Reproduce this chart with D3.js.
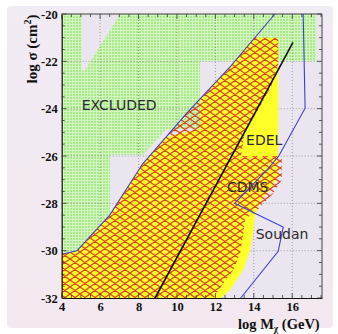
<!DOCTYPE html>
<html><head><meta charset="utf-8">
<script src="https://cdn.jsdelivr.net/npm/d3@7"></script>
<style>html,body{margin:0;padding:0;background:#fff;}svg{display:block;}</style>
</head><body>
<script>
// ---- data ----
const xTicks = [4, 6, 8, 10, 12, 14, 16];
const yTicks = [-20, -22, -24, -26, -28, -30, -32];
const xDomain = [4, 17.55];
const yDomain = [-32, -20];

const excludedRegion = [[4,-20],[5.04,-20],[5.04,-22.3],[5.15,-22.45],[7.04,-20],[17.25,-20],[17.25,-22],[11.2,-22],[11.2,-24.8],[9.4,-24.9],[8.25,-25.95],[6.52,-25.95],[6.52,-28.45],[4.8,-30.0],[4,-30.15]];
const edelRegion = [[4,-30.15],[4.8,-30.0],[6.5,-28.5],[8.2,-26.35],[9.4,-25.2],[11.2,-24.85],[11.2,-23.62],[12.8,-22.2],[14.05,-21.0],[15.27,-21.0],[15.27,-26.9],[14.9,-27.35],[14.4,-27.85],[14.07,-28.45],[13.98,-29.1],[13.8,-29.97],[13.46,-30.8],[12.77,-31.65],[12.3,-32],[4,-32]];
const cdmsRegion = [[4,-30.15],[4.8,-30.0],[6.5,-28.5],[8.2,-26.35],[10.5,-24.2],[12.8,-22.2],[14.05,-21.0],[15.27,-21.0],[15.27,-22.2],[14.9,-23.07],[14.22,-24.06],[13.53,-25.03],[13.34,-26.0],[15.46,-26.0],[15.46,-27.0],[15.0,-27.6],[14.5,-28.0],[14.0,-28.45],[13.55,-28.63],[13.46,-29.27],[13.29,-30.11],[12.94,-30.82],[12.42,-31.38],[11.9,-32],[4,-32]];
const cdmsLimit = [[4,-30.15],[4.8,-30.0],[6.5,-28.5],[8.2,-26.35],[10.5,-24.2],[12.8,-22.2],[15.1,-20]];
const soudanLine = [[16.57,-20],[16.67,-23.98],[15.3,-26.0],[14.68,-26.6],[13.0,-28.0],[14.05,-28.42],[15.53,-29.0],[15.27,-30.03],[13.32,-32]];
const blackLine = [[8.86,-32],[16.04,-21.2]];
const labels = [
  {text:"EXCLUDED", x:5.04, y:-24.05},
  {text:"EDEL", x:13.6, y:-25.52},
  {text:"CDMS", x:12.6, y:-27.52},
  {text:"Soudan", x:14.1, y:-29.52}
];

// ---- chart ----
const W = 338, H = 334;
const svg = d3.select("body").append("svg").attr("width", W).attr("height", H);
const x = d3.scaleLinear().domain(xDomain).range([61.7, 322]);
const y = d3.scaleLinear().domain(yDomain).range([298, 14]);

const defs = svg.append("defs");
const bgGrad = defs.append("linearGradient").attr("id","bg").attr("x1",0).attr("y1",0).attr("x2",0).attr("y2",1);
bgGrad.append("stop").attr("offset","0%").attr("stop-color","#f1ebf4");
bgGrad.append("stop").attr("offset","100%").attr("stop-color","#f3e8ef");

const gp = defs.append("pattern").attr("id","greenGrid").attr("patternUnits","userSpaceOnUse")
  .attr("width",3).attr("height",3);
gp.append("rect").attr("width",3).attr("height",3).attr("fill","#a9e98a");
gp.append("rect").attr("width",3).attr("height",1).attr("fill","#d3f6c0");
gp.append("rect").attr("width",1).attr("height",3).attr("fill","#d3f6c0");

const hw = 10, hh = 7;
const hp = defs.append("pattern").attr("id","hatch").attr("patternUnits","userSpaceOnUse")
  .attr("width",hw).attr("height",hh);
hp.append("path").attr("d",`M0,0L${hw},${hh}M${hw},0L0,${hh}M${-hw/2},${hh/2}L0,${hh}M${hw/2},${-hh/2}L${hw},0M${hw/2},${hh*1.5}L${hw},${hh}M${-hw/2},${hh/2}L0,0M${hw},0L${hw*1.5},${hh/2}M${hw},${hh}L${hw*1.5},${hh/2}`)
  .attr("stroke","#d8421c").attr("stroke-width",1.2).attr("fill","none");

svg.append("rect").attr("x",7).attr("y",6).attr("width",326).attr("height",322).attr("rx",4).attr("fill","url(#bg)");
svg.append("rect").attr("x",x(xDomain[0])).attr("y",y(yDomain[1])).attr("width",x(xDomain[1])-x(xDomain[0]))
  .attr("height",y(yDomain[0])-y(yDomain[1])).attr("fill","#ebe5f0");

const line = d3.line().x(d=>x(d[0])).y(d=>y(d[1]));
const area = d3.line().x(d=>x(d[0])).y(d=>y(d[1])).curve(d3.curveLinearClosed);

svg.append("path").attr("d", area(excludedRegion)).attr("fill","url(#greenGrid)");

// dotted grid
const grid = svg.append("g").attr("stroke","#8a8a8a").attr("stroke-width",0.8).attr("stroke-dasharray","1,2");
xTicks.slice(1).forEach(v=>grid.append("line").attr("x1",x(v)).attr("x2",x(v)).attr("y1",y(-20)).attr("y2",y(-32)));
yTicks.slice(1,-1).forEach(v=>grid.append("line").attr("x1",x(4)).attr("x2",x(17.55)).attr("y1",y(v)).attr("y2",y(v)));

svg.append("path").attr("d", area(edelRegion)).attr("fill","#ffff2a");
svg.append("path").attr("d", area(cdmsRegion)).attr("fill","url(#hatch)");

svg.append("path").attr("d", line(cdmsLimit)).attr("fill","none").attr("stroke","#4a3cc8").attr("stroke-width",1.1);
svg.append("path").attr("d", line(soudanLine)).attr("fill","none").attr("stroke","#3c3ce0").attr("stroke-width",1.1);
svg.append("path").attr("d", line(blackLine)).attr("fill","none").attr("stroke","#111").attr("stroke-width",1.6);

svg.append("g").selectAll("text").data(labels).join("text")
  .attr("x",d=>x(d.x)).attr("y",d=>y(d.y)).text(d=>d.text)
  .attr("font-family","DejaVu Sans").attr("font-size",14).attr("fill","#2a2a2a");

// axes
const serif = "Liberation Serif";
const xMinor = d3.range(4, 17.51, 0.5);
const yMinor = d3.range(-32, -19.99, 0.5);
const axes = svg.append("g");
const xb = axes.append("g").attr("transform",`translate(0,${y(-32)})`)
  .call(d3.axisBottom(x).tickValues(xTicks).tickSize(0).tickPadding(4).tickFormat(d3.format("d")));
const yl = axes.append("g").attr("transform",`translate(${x(4)},0)`)
  .call(d3.axisLeft(y).tickValues(yTicks).tickSize(0).tickPadding(4).tickFormat(d=>"-"+Math.abs(d)));
[xb,yl].forEach(g=>{g.select(".domain").attr("stroke","#111").attr("stroke-width",1.2);
  g.selectAll("text").attr("font-family",serif).attr("font-weight","bold").attr("font-size",12.5).attr("fill","#111");});
const tk = axes.append("g").attr("stroke","#333").attr("stroke-width",0.8);
xMinor.forEach(v=>{const L = (v%2===0)?5:3;
  tk.append("line").attr("x1",x(v)).attr("x2",x(v)).attr("y1",y(-32)).attr("y2",y(-32)-L);
  tk.append("line").attr("x1",x(v)).attr("x2",x(v)).attr("y1",y(-20)).attr("y2",y(-20)+L);});
yMinor.forEach(v=>{const L = (v%2===0)?5:3;
  tk.append("line").attr("x1",x(4)).attr("x2",x(4)+L).attr("y1",y(v)).attr("y2",y(v));
  tk.append("line").attr("x1",x(17.55)).attr("x2",x(17.55)-L).attr("y1",y(v)).attr("y2",y(v));});
axes.append("line").attr("x1",x(4)).attr("x2",x(17.55)).attr("y1",y(-20)).attr("y2",y(-20)).attr("stroke","#444").attr("stroke-width",1);
axes.append("line").attr("x1",x(17.55)).attr("x2",x(17.55)).attr("y1",y(-20)).attr("y2",y(-32)).attr("stroke","#444").attr("stroke-width",1);

// titles
const xt = svg.append("text").attr("x",238).attr("y",328.5).attr("font-family",serif).attr("font-weight","bold")
  .attr("font-size",14.5).attr("fill","#111");
xt.append("tspan").text("log M");
xt.append("tspan").attr("font-size",9.5).attr("dy",3).text("χ");
xt.append("tspan").attr("dy",-3).text(" (GeV)");

const yt = svg.append("text").attr("transform","translate(37,49) rotate(-90)").attr("text-anchor","middle")
  .attr("font-family",serif).attr("font-weight","bold").attr("font-size",15).attr("fill","#111");
yt.append("tspan").text("log σ (cm");
yt.append("tspan").attr("font-size",10).attr("dy",-6).text("2");
yt.append("tspan").attr("dy",6).text(")");
</script>
</body></html>
